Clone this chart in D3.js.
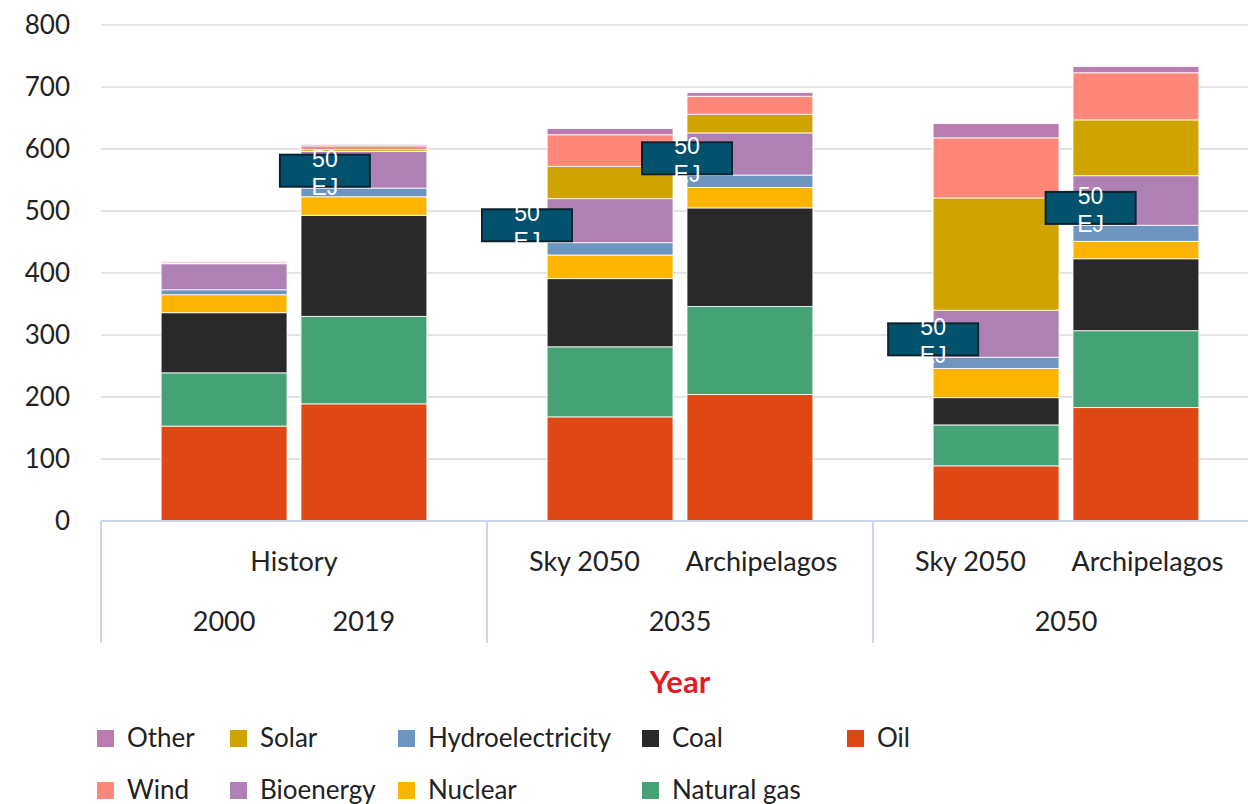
<!DOCTYPE html>
<html>
<head>
<meta charset="utf-8">
<script src="https://cdn.jsdelivr.net/npm/d3@7"></script>
<style>
  body { margin: 0; background: #fff; }
  svg { display: block; font-family: Lato, "Open Sans", sans-serif; }
</style>
</head>
<body>
<svg id="chart" width="1248" height="804"></svg>
<script>
// bars, left to right
const barKeys = ["2000", "2019", "2035 Sky", "2035 Arch", "2050 Sky", "2050 Arch"]
const barGroup = [0, 0, 1, 1, 2, 2]
const groupKeys = ["History", "2035", "2050"]

// axis labels (multi level)
const topLabels = ["History", "Sky 2050", "Archipelagos", "Sky 2050", "Archipelagos"]
const topLabelBars = [[0, 1], [2], [3], [4], [5]]
const bottomLabels = ["2000", "2019", "2035", "2050"]
const bottomLabelBars = [[0], [1], [2, 3], [4, 5]]

const yTicks = [0, 100, 200, 300, 400, 500, 600, 700, 800]

// stacked from bottom to top, EJ
const seriesNames = ["Oil", "Natural gas", "Coal", "Nuclear", "Hydroelectricity", "Bioenergy", "Solar", "Wind", "Other"]
const oil        = [153, 189, 168, 204, 89, 183]
const naturalGas = [86, 141, 113, 142, 66, 124]
const coal       = [97, 163, 110, 159, 44, 116]
const nuclear    = [29, 30, 38, 33, 47, 28]
const hydro      = [8, 14, 20, 20, 18, 26]
const bioenergy  = [42, 59, 71, 68, 76, 80]
const solar      = [0.5, 3, 52, 30, 181, 90]
const wind       = [1, 6, 51, 29, 97, 76]
const other      = [2, 2, 10, 6, 23, 10]
const seriesColors = ["#dd4814", "#45a275", "#292929", "#fbb400", "#6e94c0", "#af80b4", "#d0a400", "#ff887a", "#ba7cae"]

// legend order (column by column, two rows)
const legendNames = ["Other", "Wind", "Solar", "Bioenergy", "Hydroelectricity", "Nuclear", "Coal", "Natural gas", "Oil"]

// "50 EJ" callouts: bar they sit on, shift in bar widths, value at box centre
const calloutBars = [1, 2, 3, 4, 5]
const calloutShift = [0.19, -0.16, 0, 0, 0.14]
const calloutValues = [565, 477, 585, 293, 505]
const calloutText = ["50", "EJ"]

const WIDTH = 1248
const MARGIN = {left: 101, top: 25, bottom: 283}
const GROUP_W = 386
const PLOT_BOTTOM = 804 - MARGIN.bottom

let svg = d3.select("#chart")

let seriesValues = [oil, naturalGas, coal, nuclear, hydro, bioenergy, solar, wind, other]
let rows = barKeys.map((k, i) => {
  let row = {key: k}
  seriesNames.forEach((s, j) => { row[s] = seriesValues[j][i] })
  return row
})
let stacked = d3.stack().keys(seriesNames)(rows)

let colorScale = d3.scaleOrdinal().domain(seriesNames).range(seriesColors)

let groupScale = d3.scaleBand()
  .domain(groupKeys)
  .range([MARGIN.left, MARGIN.left + GROUP_W * groupKeys.length])

let inBarScale = d3.scaleBand()
  .domain([0, 1])
  .range([0, GROUP_W])
  .paddingInner(0.1)
  .paddingOuter(0.43)

let inLabelScale = d3.scaleBand()
  .domain([0, 1])
  .range([0, GROUP_W])
  .paddingOuter(0.09)
  .align(0.28)

const barX = i => groupScale(groupKeys[barGroup[i]]) + inBarScale(i % 2)
const barW = inBarScale.bandwidth()

let yScale = d3.scaleLinear()
  .domain([0, 800])
  .range([PLOT_BOTTOM, MARGIN.top])

// gridlines
svg.append("g")
  .selectAll("line")
  .data(yTicks.filter(d => d > 0))
  .join("line")
  .attr("x1", MARGIN.left)
  .attr("x2", WIDTH)
  .attr("y1", d => yScale(d))
  .attr("y2", d => yScale(d))
  .attr("stroke", "#e4e4e4")
  .attr("stroke-width", 2)

// y axis labels
let yAxis = svg.append("g")
  .attr("transform", `translate(${MARGIN.left}, 0)`)
  .call(d3.axisLeft(yScale).tickValues(yTicks).tickSize(0).tickPadding(31))
yAxis.select(".domain").remove()
yAxis.selectAll("text")
  .attr("font-size", 26)
  .attr("font-family", "Lato, sans-serif")
  .attr("fill", "#222")

// stacked bars
svg.append("g")
  .selectAll("g")
  .data(stacked)
  .join("g")
  .attr("fill", d => colorScale(d.key))
  .selectAll("rect")
  .data(d => d)
  .join("rect")
  .attr("x", (d, i) => barX(i))
  .attr("width", barW)
  .attr("y", d => yScale(d[1]))
  .attr("height", d => yScale(d[0]) - yScale(d[1]))
  .attr("stroke", "#ffffff")
  .attr("stroke-opacity", 0.8)
  .attr("stroke-width", 1)

// category axis
let axisG = svg.append("g")
axisG.append("line")
  .attr("x1", MARGIN.left)
  .attr("x2", WIDTH)
  .attr("y1", PLOT_BOTTOM)
  .attr("y2", PLOT_BOTTOM)
  .attr("stroke", "#cdd7ec")
  .attr("stroke-width", 2)

axisG.selectAll(".sep")
  .data(groupKeys)
  .join("line")
  .attr("class", "sep")
  .attr("x1", d => groupScale(d))
  .attr("x2", d => groupScale(d))
  .attr("y1", PLOT_BOTTOM)
  .attr("y2", PLOT_BOTTOM + 122)
  .attr("stroke", "#cdd7ec")
  .attr("stroke-width", 2)

const spanCenter = bars => {
  if (bars.length > 1) {
    let g = barGroup[bars[0]]
    if (bars.every(b => barGroup[b] === g)) return groupScale(groupKeys[g]) + GROUP_W / 2
  }
  return barX(bars[0]) + barW / 2
}

axisG.selectAll(".top-label")
  .data(topLabels)
  .join("text")
  .attr("class", "top-label")
  .attr("x", (d, i) => {
    let bars = topLabelBars[i]
    if (bars.length === 1 && barGroup[bars[0]] > 0) {
      return groupScale(groupKeys[barGroup[bars[0]]]) + inLabelScale(bars[0] % 2) + inLabelScale.bandwidth() / 2
    }
    return spanCenter(bars)
  })
  .attr("y", PLOT_BOTTOM + 50)
  .attr("text-anchor", "middle")
  .attr("font-size", 27)
  .attr("fill", "#222")
  .text(d => d)

axisG.selectAll(".bottom-label")
  .data(bottomLabels)
  .join("text")
  .attr("class", "bottom-label")
  .attr("x", (d, i) => spanCenter(bottomLabelBars[i]))
  .attr("y", PLOT_BOTTOM + 110)
  .attr("text-anchor", "middle")
  .attr("font-size", 27)
  .attr("fill", "#222")
  .text(d => d)

svg.append("text")
  .attr("x", groupScale("2035") + GROUP_W / 2)
  .attr("y", 693)
  .attr("text-anchor", "middle")
  .attr("font-size", 31)
  .attr("font-weight", "bold")
  .attr("fill", "#e21b25")
  .text("Year")

// callouts
let callouts = svg.append("g")
  .selectAll("g")
  .data(calloutBars)
  .join("g")
  .attr("transform", (d, i) => {
    let cx = barX(d) + calloutShift[i] * barW
    let cy = yScale(calloutValues[i])
    return `translate(${cx}, ${cy})`
  })
callouts.append("rect")
  .attr("x", -45)
  .attr("y", -16)
  .attr("width", 90)
  .attr("height", 32)
  .attr("fill", "#02526e")
  .attr("stroke", "#0a2430")
  .attr("stroke-width", 2)
callouts.append("text")
  .attr("text-anchor", "middle")
  .attr("font-family", "Liberation Sans, Arial, sans-serif")
  .attr("font-size", 23)
  .attr("fill", "#ffffff")
  .selectAll("tspan")
  .data(calloutText)
  .join("tspan")
  .attr("x", 0)
  .attr("y", (d, i) => -4 + i * 28)
  .text(d => d)

// legend
const legendCols = [97, 230, 398, 642, 847]
const legendRows = [747, 799]
let legend = svg.append("g")
  .selectAll("g")
  .data(legendNames)
  .join("g")
  .attr("transform", (d, i) => `translate(${legendCols[Math.floor(i / 2)]}, ${legendRows[i % 2]})`)
legend.append("rect")
  .attr("x", 0)
  .attr("y", -17)
  .attr("width", 17)
  .attr("height", 17)
  .attr("fill", d => colorScale(d))
legend.append("text")
  .attr("x", 30)
  .attr("y", 0)
  .attr("font-size", 26)
  .attr("fill", "#222")
  .text(d => d)
</script>
</body>
</html>
